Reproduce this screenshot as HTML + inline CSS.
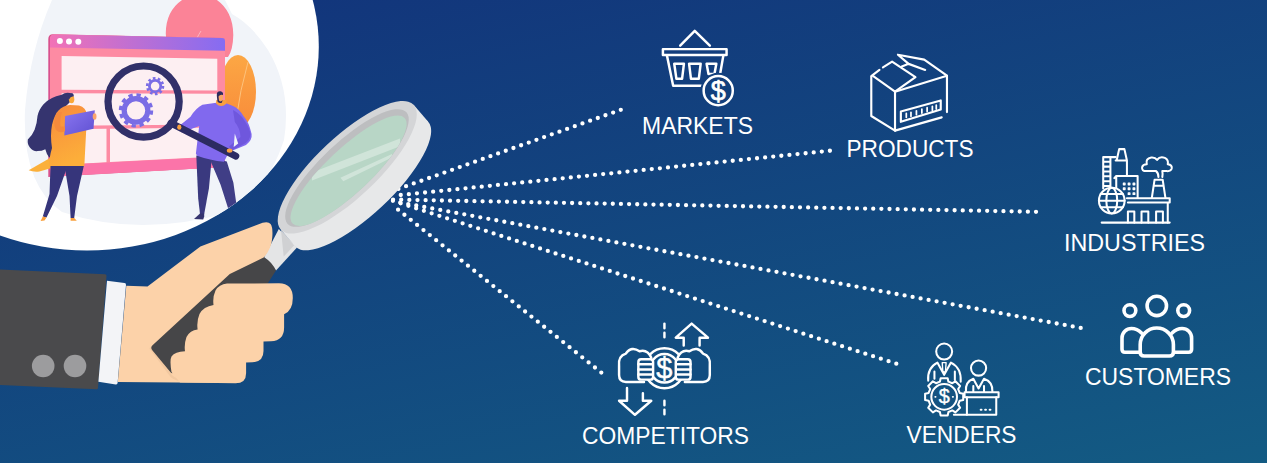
<!DOCTYPE html>
<html lang="en">
<head>
<meta charset="utf-8">
<title>Market research</title>
<style>
html,body{margin:0;padding:0;background:#123a7c;}
body{width:1267px;height:463px;overflow:hidden;}
svg{display:block;}
.lbl{font-family:"Liberation Sans",sans-serif;font-size:23px;fill:#fff;}
.ic{fill:none;stroke:#fff;stroke-width:2.2;stroke-linejoin:round;stroke-linecap:round;}
.dots{fill:none;stroke:#fff;stroke-width:4.3;stroke-linecap:round;stroke-dasharray:0 8.14;}
</style>
</head>
<body>
<svg width="1267" height="463" viewBox="0 0 1267 463">
<defs>
  <linearGradient id="bg" gradientUnits="userSpaceOnUse" x1="0" y1="0" x2="160" y2="712">
    <stop offset="0" stop-color="#12327b"/>
    <stop offset="1" stop-color="#135b83"/>
  </linearGradient>
  <linearGradient id="bar" x1="0" y1="0" x2="1" y2="0">
    <stop offset="0" stop-color="#f272b6"/>
    <stop offset="1" stop-color="#856cf2"/>
  </linearGradient>
  <linearGradient id="leaf" x1="0" y1="0" x2="0" y2="1">
    <stop offset="0" stop-color="#fca744"/>
    <stop offset="1" stop-color="#f88b3a"/>
  </linearGradient>
  <linearGradient id="tunic" x1="0" y1="0" x2="0.3" y2="1">
    <stop offset="0" stop-color="#f88a3d"/>
    <stop offset="1" stop-color="#fcae3a"/>
  </linearGradient>
  <linearGradient id="tab" x1="0" y1="0" x2="1" y2="1">
    <stop offset="0" stop-color="#8a76f0"/>
    <stop offset="1" stop-color="#5f50d2"/>
  </linearGradient>
  <clipPath id="circ"><ellipse cx="87" cy="46.5" rx="231.8" ry="204"/></clipPath>
</defs>
<rect width="1267" height="463" fill="url(#bg)"/>

<!-- BIGCIRCLE -->
<ellipse cx="87" cy="46.5" rx="231.8" ry="204" fill="#ffffff"/>
<g id="illus" clip-path="url(#circ)">
  <!-- light blob -->
  <path d="M52,0 Q30,50 25,110 Q22,185 62,212 Q140,238 230,212 Q268,190 284,140 Q292,90 268,50 Q252,25 232,14 L225,0 Z" fill="#f1f4f9"/>
  <!-- pink + orange leaves -->
  <path d="M165.8,33 Q166,8 187,-3 L212,-3 Q233,8 233.3,35 Q233,50 228,57 L172,57 Q165.6,45 165.8,33 Z" fill="#fb8397"/>
  <path d="M197,38 Q199,34 201,31" fill="none" stroke="#fdb5c0" stroke-width="1"/>
  <ellipse cx="238" cy="91.5" rx="18" ry="36.5" fill="url(#leaf)"/>
  <path d="M236,120 Q240,90 248,62" fill="none" stroke="#fdc27c" stroke-width="1"/>
  <!-- window -->
  <path d="M48.3,39 Q48.3,34 53.3,34.2 L222,38.1 Q225,38.2 225,41.2 L225,167 L48.3,177 Z" fill="#d9508d"/>
  <path d="M50,39 Q50,34.2 55,34.4 L222,38.1 Q225,38.2 225,41.2 L225,167 L50,176.5 Z" fill="#fd8ba3"/>
  <path d="M50,39 Q50,34.2 55,34.4 L222,38.1 Q225,38.2 225,41.2 L225,50.7 L50,47.5 Z" fill="url(#bar)"/>
  <circle cx="59.9" cy="41.1" r="3" fill="#fff"/>
  <circle cx="69" cy="41.4" r="3" fill="#fff"/>
  <circle cx="78.3" cy="41.7" r="3" fill="#fff"/>
  <!-- content panels -->
  <path d="M61.6,56.1 L217.3,58.8 L217.3,90.5 L61.6,89.8 Z" fill="#fdeff2"/>
  <path d="M61.6,93.2 L217.3,93.7 L217.3,124.5 L61.6,125.8 Z" fill="#fdeff2"/>
  <path d="M61.6,129.2 L106.5,128.8 L106.5,162.3 L61.6,164.8 Z" fill="#fdeff2"/>
  <path d="M110,128.8 L217.3,127.6 L217.3,156.5 L110,162.1 Z" fill="#fdeff2"/>
  <path d="M50,165.5 L225,156.5 L225,167 L50,176.5 Z" fill="#fb74a9"/>
  <!-- gears -->
  <g fill="none" stroke="#7a6de5">
    <circle cx="136" cy="110.4" r="11.8" stroke-width="5.2"/>
    <circle cx="136" cy="110.4" r="15.5" stroke-width="3.4" stroke-dasharray="4.3 3.816"/>
    <circle cx="155.1" cy="86.1" r="5.7" stroke-width="2.8"/>
    <circle cx="155.1" cy="86.1" r="7.9" stroke-width="2.6" stroke-dasharray="2.6 2.364"/>
  </g>
  <!-- woman -->
  <path d="M72.5,93.7 Q66,91.5 61.8,94.7 Q50,97 43.3,104.4 Q38.5,110 37.5,116.1 Q37,124 34.6,129.7 Q32,136 27.8,139.4 Q27.2,144 29.7,147.2 Q33,151.5 37.5,151.1 Q42,151 45.3,149.2 Q46.5,154 49.2,157.5 L57,152 L60,112 L70,102 Q74,98 72.5,93.7 Z" fill="#35346f"/>
  <ellipse cx="71.6" cy="99.2" rx="2.7" ry="4" fill="#f9a83a"/>
  <path d="M68.5,97 Q69,92.8 72.8,93.4 Q74.4,95 73.6,96.6 Q70.8,95.6 69,99.6 Z" fill="#35346f"/>
  <path d="M50,158 L28.7,170.3 Q33,172.3 39.4,171.6 L55,167 Z" fill="#fbb03b"/>
  <path d="M58,111 Q63,105.5 70,105 L79,105.5 Q86,107 87,115 L84.3,166.6 L49.2,166.6 Q49,158 52,148 Q50,135 52,125 Q54,116 58,111 Z" fill="url(#tunic)"/>
  <path d="M50.5,166 L67.5,166 L57,196 L46.5,217.5 L42.8,216.5 L49.5,194 Z" fill="#36357b"/>
  <path d="M64.5,166 L83.8,166 L77,196 L74.2,218 L70.6,218 L69.5,196 Z" fill="#36357b"/>
  <path d="M42.8,216.5 L46.5,217.5 L44.5,220.6 L40.6,221 Z M70.6,218 L74.2,218 L76.8,220.8 L70.6,220.8 Z" fill="#f9a13f"/>
  <path d="M65.1,116.1 L94.8,110.3 L93.5,128.7 L64.3,135.5 Z" fill="url(#tab)"/>
  <path d="M57,112 Q52,122 56,130 Q60,134 65,131 L65,126.5 L60.5,126.5 Q59.5,120 62,112 Z" fill="#f58a3c"/>
  <ellipse cx="94.6" cy="116.5" rx="1.9" ry="3.2" fill="#f9a46d"/>
  <!-- man -->
  <path d="M196.3,155.6 L211.8,157.5 L208.9,188.6 L204.2,214 L200,214 L198.2,198.4 Z" fill="#3a397f"/>
  <path d="M200,213.5 L204.2,213.5 L204.2,216.5 L203.2,219.6 L194,219 Z" fill="#35346f"/>
  <path d="M208.9,157 L226.8,161.4 L233.4,182.8 L236.5,205 L228,208 L220.6,184.7 Z" fill="#403e86"/>
  <path d="M216.4,102.7 L202.4,104.8 Q196,108 190.5,116.7 L178.5,126.5 L181.9,132.5 L199.2,126 L195.9,153.4 L197,155.8 Q210,160.5 224,161.8 L229,152 L246,145 Q252.5,140 251.6,134 Q249,122 243.4,116 Q239,108.5 233,106 L226.2,103.2 Z" fill="#8169ee"/>
  <path d="M233,110 Q240,114 243.4,118.9 Q250,128 250.5,134.5 Q250,140 245,143.5 L231.5,150.5 L229,146.5 L240.5,137 Q240,128 234.8,122 Z" fill="#6f57dd"/>
  <path d="M234.8,133.5 L238.2,143.5 L233.7,147 Z" fill="#f1f4f9"/>
  <path d="M216.3,100 L226.3,100 L226.5,103.5 Q221,108.5 216,103.5 Z" fill="#f9a03f"/>
  <ellipse cx="220" cy="97" rx="3.1" ry="4.6" fill="#f9a565"/>
  <path d="M216.8,95.5 Q216.5,91 220.5,91.3 Q223.5,91.8 223,95 Q220,94 218.5,96.5 L219,100.5 Q221,102.5 222.5,100 L222,102.5 Q219.5,104 217.5,101.5 Z" fill="#2d2c5e"/>
  <!-- magnifier -->
  <line x1="171" y1="123.2" x2="235.8" y2="156.2" stroke="#2c2b63" stroke-width="7" stroke-linecap="round"/>
  <circle cx="143.6" cy="101.6" r="35.6" fill="none" stroke="#313069" stroke-width="7.2"/>
  <ellipse cx="229.6" cy="150.6" rx="2.8" ry="2.2" fill="#f9a03f"/>
  <ellipse cx="179.3" cy="127.2" rx="2.1" ry="2.6" fill="#f9a03f"/>
</g>

<!-- DOTS -->
<g class="dots">
  <line x1="620.8" y1="109.8" x2="390.6" y2="191.7"/>
  <line x1="829.9" y1="150.75" x2="393.8" y2="195.7"/>
  <line x1="1036" y1="211.8" x2="388" y2="199.5"/>
  <line x1="1080.7" y1="327.9" x2="395" y2="201.6"/>
  <line x1="896.3" y1="363.7" x2="392.3" y2="200.6"/>
  <line x1="601.3" y1="372.6" x2="392" y2="204.8"/>
</g>

<!-- MAGNIFIER -->
<g id="mag">
  <!-- neck -->
  <polygon points="278.8,229 264.1,257.2 276,270.5 297,247.5" fill="#e4e5e6"/>
  <polygon points="281,230 294.5,245 283.7,256.6" fill="#d0d1d3"/>
  <g transform="translate(347.25,167.3) rotate(-43.3)">
    <ellipse cx="-1" cy="22" rx="91.2" ry="30.3" fill="#e7e8e9"/>
    <polygon points="-91.2,0 91.2,0 90.2,22 -92.2,22" fill="#e7e8e9"/>
    <ellipse cx="0" cy="0" rx="91.2" ry="30.3" fill="#d4d5d7"/>
    <ellipse cx="-0.7" cy="0.3" rx="81.5" ry="25.2" fill="#bdbec0"/>
    <ellipse cx="-1.4" cy="3.4" rx="77" ry="22.1" fill="#b8d6c6"/>
  </g>
  <clipPath id="lens"><ellipse cx="-1.4" cy="3.4" rx="77" ry="22.1" transform="translate(347.25,167.3) rotate(-43.3)"/></clipPath>
  <g clip-path="url(#lens)" fill="#d0e4d9">
    <polygon points="312,172.4 400,138.5 400,146.2 312,180.4"/>
    <polygon points="340.4,177.7 392,153.9 392,157.4 343.3,181.3"/>
  </g>
</g>

<!-- HAND -->
<g id="hand">
  <!-- sleeve -->
  <path d="M0,269.4 L105,274.3 Q106.6,274.4 106.5,276 L98,388 Q97.9,389.4 96.5,389.3 L0,385 Z" fill="#4a4a4c"/>
  <path d="M107,280.8 L124.5,283 Q126.2,283.2 126,285 L117.6,383 Q117.4,384.6 115.8,384.4 L98.4,381.8 Z" fill="#f3f4f7"/>
  <circle cx="43.2" cy="366" r="11.3" fill="#9c9c9e"/>
  <circle cx="75" cy="366" r="11.3" fill="#9c9c9e"/>
  <!-- hand back + thumb -->
  <path d="M126.3,285.8 L147.5,286.4 L200.4,246.5 L258,224.5 Q267.5,220.5 270.6,224 Q273,227.5 272.3,237 Q271.8,248 264.1,257.2 L250,300 L236,383 L117.8,382 Z" fill="#fcd2a9"/>
  <!-- shadow under handle -->
  <path d="M150.2,347.5 L170.5,375.2 Q173,378.5 178,379.6 L236,382" fill="none" stroke="#f2c8a0" stroke-width="2.2" stroke-linejoin="round"/>
  <!-- handle -->
  <path d="M264.1,257.2 Q272,262 276,270.5 L267.7,283.5 L240,300 L173.5,372.5 Q172,374 170.5,372.3 L152.3,350.3 Q150,347.3 152.8,345 L229.8,274 Z" fill="#464648"/>
  <!-- fingers -->
  <path d="M171.5,372 Q169.5,360 171.5,356.5 Q175,351.5 185,351.3 Q184,344 186.5,337 Q190,330.5 197.6,329.6 Q196.5,321 199.5,314 Q203.5,306.5 213.5,305 Q212.5,297 215.5,290.5 Q219,284.5 227,283.6 L279,283.3 Q292.8,283.5 292.8,298 Q292.8,310.5 284.1,314.3 L284.1,327 Q284.3,340.5 271,341.3 L263.5,341.6 L263.5,351 Q263.5,361.8 252.5,362.3 L246.1,362.5 L246.1,373 Q246.2,383.3 235.5,383.3 L180,382.5 Z" fill="#fcd2a9"/>
</g>

<!-- ICONS -->
<g id="icons">
  <!-- MARKETS basket: coords from zoom 3.707 @ (630,20) -->
  <g class="ic" transform="translate(630,20) scale(0.26976)" style="stroke-width:9.2">
    <path d="M186,95 L240,40 L296,95"/>
    <rect x="122" y="108" width="236" height="22"/>
    <path d="M137,132 L160,244 L275,244 M346,132 L334,200"/>
    <path d="M164,162 L200,162 L193,218 L172,218 Z"/>
    <path d="M219,162 L262,162 L255,218 L226,218 Z"/>
    <path d="M284,162 L320,162 L313,200 L291,200 Z"/>
    <circle cx="327" cy="262" r="66" fill="#12407d" stroke="none"/>
    <circle cx="327" cy="262" r="54"/>
    <text x="327" y="296" text-anchor="middle" font-family="Liberation Sans, sans-serif" font-size="100" fill="#fff" stroke="#fff" style="stroke-width:2.5">$</text>
  </g>

  <!-- PRODUCTS box: coords from zoom 5.14 @ (860,45) -->
  <g class="ic" transform="translate(860,45) scale(0.19455)" style="stroke-width:11">
    <path d="M58,165 L58,365 L180,440 L180,240 L68,160"/>
    <path d="M180,240 L447,158 L447,345 M420,372 L180,440"/>
    <path d="M58,160 L100,128 M118,115 L165,85 L285,165 L180,240"/>
    <path d="M195,50 L330,75 L447,158 M195,50 L250,97 L335,128 M250,97 L215,110"/>
    <path d="M210,342 L415,285 L415,332 L210,395 Z"/>
    <path d="M238,352 L238,372 M262,346 L262,366 M290,338 L290,358 M318,330 L318,350 M345,322 L345,342 M372,315 L372,335 M392,309 L392,329" style="stroke-width:9"/>
  </g>

  <!-- INDUSTRIES: coords from zoom 5.144 @ (1090,140) -->
  <g class="ic" transform="translate(1090,140) scale(0.1944)" style="stroke-width:10.5">
    <path d="M68,250 L68,88 L132,88 M105,88 L105,245 M68,112 L105,112 M68,137 L105,137 M68,162 L105,162 M68,187 L105,187 M68,212 L105,212 M68,237 L105,237"/>
    <path d="M137,105 L150,47 L177,47 L190,105 M132,105 L190,105 L190,180"/>
    <path d="M135,250 L135,185 L245,185 L245,298 M125,196 L135,185"/>
    <path d="M172,222 h8 v8 h-8 Z M197,222 h8 v8 h-8 Z M222,222 h8 v8 h-8 Z M172,247 h8 v8 h-8 Z M197,247 h8 v8 h-8 Z M222,247 h8 v8 h-8 Z M197,272 h8 v8 h-8 Z M222,272 h8 v8 h-8 Z" style="stroke-width:7"/>
    <path d="M318,298 L332,205 L374,205 L388,298 M328,235 L378,235"/>
    <path d="M352,190 Q352,170 340,160 L290,160 Q265,160 268,140 Q272,125 292,125 Q285,95 315,90 Q335,88 345,102 Q360,82 385,92 Q405,102 400,125 Q425,128 420,148 Q415,162 395,160 L372,160 Q375,175 372,190"/>
    <path d="M190,300 L410,300 L410,322 L195,322 M400,322 L400,425"/>
    <path d="M60,425 L410,425"/>
    <path d="M195,425 L195,368 L228,368 L228,425 M265,425 L265,368 L300,368 L300,425 M340,425 L340,368 L375,368 L375,425"/>
    <circle cx="112" cy="312" r="66" fill="#134b80"/>
    <path d="M46,312 L178,312 M55,278 L169,278 M55,346 L169,346"/>
    <ellipse cx="112" cy="312" rx="28" ry="66"/>
  </g>

  <!-- CUSTOMERS -->
  <g class="ic" style="stroke-width:3.6">
    <circle cx="1156.8" cy="305.9" r="9.7"/>
    <circle cx="1129.9" cy="310.6" r="5.9"/>
    <circle cx="1183.7" cy="310.6" r="5.9"/>
    <path d="M1140.2,352 V344.6 A16.6,16.6 0 0 1 1173.4,344.6 V352 Q1173.4,356 1169.4,356 H1144.2 Q1140.2,356 1140.2,352 Z"/>
    <path d="M1139,352.2 H1125 Q1122,352.2 1122,349.2 V338 A9.5,9.5 0 0 1 1131.5,328.5 Q1137,328.5 1141.5,333"/>
    <path d="M1174.6,352.2 H1188.6 Q1191.6,352.2 1191.6,349.2 V338 A9.5,9.5 0 0 0 1182.1,328.5 Q1176.6,328.5 1172.1,333"/>
  </g>

  <!-- COMPETITORS: coords from zoom 4.409 @ (610,315) -->
  <g class="ic" transform="translate(610,315) scale(0.22681)" style="stroke-width:10.8">
    <path d="M240,38 L240,58 M240,78 L240,98 M240,378 L240,398 M240,418 L240,438"/>
    <circle cx="240" cy="235" r="88"/>
    <path d="M192,195 A62,62 0 0 1 288,195 M192,275 A62,62 0 0 0 288,275"/>
    <text x="240" y="278" text-anchor="middle" font-family="Liberation Sans, sans-serif" font-size="128" fill="#fff" stroke="#fff" style="stroke-width:2">$</text>
    <!-- arrows -->
    <path d="M395,135 L395,100 L432,100 L360,38 L290,100 L325,100 L325,135"/>
    <path d="M75,322 L75,378 L40,378 L110,440 L182,378 L145,378 L145,345"/>
    <!-- fists -->
    <path d="M182,188 Q165,150 130,160 Q95,135 70,170 Q35,180 40,225 L40,265 Q40,295 70,295 L150,295" fill="#124d80"/>
    <rect x="125" y="195" width="65" height="90" rx="12" fill="#124d80"/>
    <path d="M125,217 L188,217 M125,240 L188,240 M125,262 L188,262"/>
    <path d="M298,188 Q315,150 350,160 Q385,135 410,170 Q445,180 440,225 L440,265 Q440,295 410,295 L330,295" fill="#124d80"/>
    <rect x="290" y="195" width="65" height="90" rx="12" fill="#124d80"/>
    <path d="M355,217 L292,217 M355,240 L292,240 M355,262 L292,262"/>
  </g>

  <!-- VENDERS: coords from zoom 5.144 @ (915,335) -->
  <g class="ic" transform="translate(915,335) scale(0.1944)" style="stroke-width:10.5">
    <circle cx="150" cy="85" r="41"/>
    <path d="M68,235 Q62,170 115,142 L150,205 L185,142 Q240,170 235,240"/>
    <path d="M140,142 L160,142 L157,185 L150,195 L143,185 Z" style="stroke-width:7"/>
    <path d="M100,188 L100,225 M205,188 L205,232"/>
    <circle cx="327" cy="170" r="39"/>
    <path d="M262,290 Q258,240 300,225 L327,275 L355,225 Q400,240 398,290"/>
    <path d="M300,262 L300,290 M355,262 L355,290"/>
    <rect x="255" y="295" width="175" height="25"/>
    <path d="M267,320 L267,410 L418,410 L418,320"/>
    <path d="M338,385 h4 M361,385 h4 M384,385 h4"/>
    <path d="M200,410 L267,410"/>
    <!-- gear -->
    <path d="M132,222 L168,222 L172,240 L192,248 L208,238 L232,262 L222,278 L230,298 L248,302 L248,334 L230,338 L222,358 L232,374 L208,398 L192,388 L172,396 L168,414 L132,414 L128,396 L108,388 L92,398 L68,374 L78,358 L70,338 L52,334 L52,302 L70,298 L78,278 L68,262 L92,238 L108,248 L128,240 Z" fill="#135381"/>
    <circle cx="150" cy="318" r="66"/>
    <text x="150" y="352" text-anchor="middle" font-family="Liberation Sans, sans-serif" font-size="102" fill="#fff" stroke="#fff" style="stroke-width:2">$</text>
    <path d="M104,318 h2 M194,318 h2" style="stroke-width:9"/>
  </g>
</g>

<!-- LABELS -->
<text class="lbl" x="642" y="133.5" textLength="111" lengthAdjust="spacingAndGlyphs">MARKETS</text>
<text class="lbl" x="846.5" y="157" textLength="127" lengthAdjust="spacingAndGlyphs">PRODUCTS</text>
<text class="lbl" x="1064" y="251" textLength="141" lengthAdjust="spacingAndGlyphs">INDUSTRIES</text>
<text class="lbl" x="1085" y="385" textLength="146" lengthAdjust="spacingAndGlyphs">CUSTOMERS</text>
<text class="lbl" x="582" y="444" textLength="167" lengthAdjust="spacingAndGlyphs">COMPETITORS</text>
<text class="lbl" x="906.5" y="442.5" textLength="110" lengthAdjust="spacingAndGlyphs">VENDERS</text>
</svg>
</body>
</html>
